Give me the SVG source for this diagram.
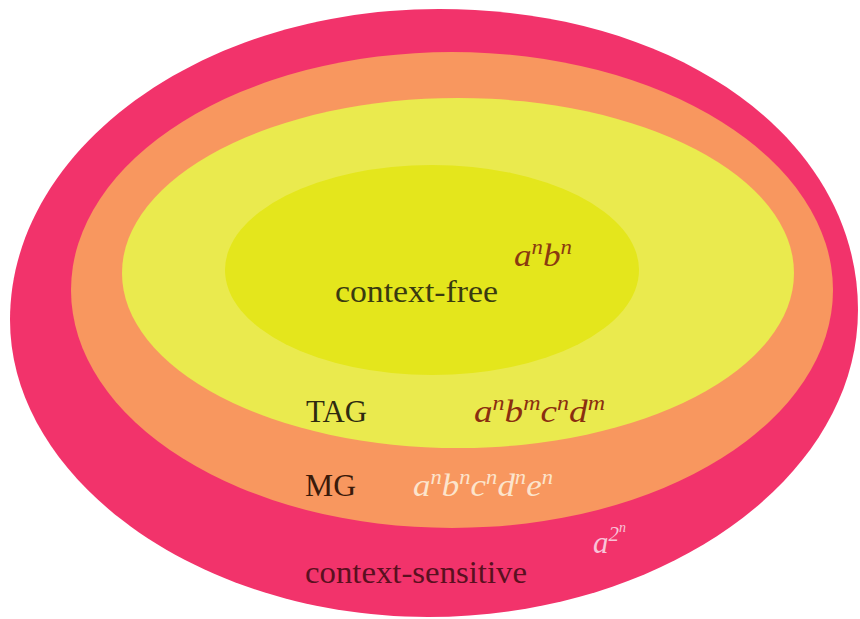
<svg xmlns="http://www.w3.org/2000/svg" width="860" height="619" viewBox="0 0 860 619">
<style>
.lbl{font-family:"Liberation Serif","Times New Roman",serif;font-size:31px}
.math{font-family:"Liberation Serif","Times New Roman",serif;font-style:italic;font-size:31px}
.sup{font-size:20px}
</style>
<rect width="860" height="619" fill="#ffffff"/>
<g id="context-sensitive">
<path d="M439,9 C680,9 858,140 858,310 C858,480 660,617 428,617 C200,617 10,480 10,320 C10,150 200,9 439,9 Z" fill="#F2336B"/>
</g>
<g id="MG">
<ellipse cx="452" cy="290" rx="381" ry="238" fill="#F8975F"/>
</g>
<g id="TAG">
<ellipse cx="458" cy="273" rx="336" ry="175" fill="#EAEA4E"/>
</g>
<g id="context-free">
<ellipse cx="432" cy="270" rx="207" ry="105" fill="#E4E61C"/>
</g>
<g id="labels">
<text class="lbl" x="335" y="302" fill="#3A3A10" textLength="163" lengthAdjust="spacingAndGlyphs">context-free</text>
<text class="math" x="514" y="266" fill="#8A3A10" textLength="58" lengthAdjust="spacingAndGlyphs">a<tspan class="sup" dy="-12">n</tspan><tspan dy="12">b</tspan><tspan class="sup" dy="-12">n</tspan></text>
<text class="lbl" x="306" y="422" fill="#2E2A10" textLength="61" lengthAdjust="spacingAndGlyphs">TAG</text>
<text class="math" x="474" y="422" fill="#8A2E10" textLength="131" lengthAdjust="spacingAndGlyphs">a<tspan class="sup" dy="-12">n</tspan><tspan dy="12">b</tspan><tspan class="sup" dy="-12">m</tspan><tspan dy="12">c</tspan><tspan class="sup" dy="-12">n</tspan><tspan dy="12">d</tspan><tspan class="sup" dy="-12">m</tspan></text>
<text class="lbl" x="305" y="496" fill="#3A1A0A" textLength="51" lengthAdjust="spacingAndGlyphs">MG</text>
<text class="math" x="413" y="496" fill="#FCE4CC" textLength="140" lengthAdjust="spacingAndGlyphs">a<tspan class="sup" dy="-12">n</tspan><tspan dy="12">b</tspan><tspan class="sup" dy="-12">n</tspan><tspan dy="12">c</tspan><tspan class="sup" dy="-12">n</tspan><tspan dy="12">d</tspan><tspan class="sup" dy="-12">n</tspan><tspan dy="12">e</tspan><tspan class="sup" dy="-12">n</tspan></text>
<text class="math" x="593" y="553" fill="#F8C4D8">a<tspan font-size="21" dy="-12">2</tspan><tspan font-size="14" dy="-9">n</tspan></text>
<text class="lbl" x="305" y="583" fill="#5A1020" textLength="222" lengthAdjust="spacingAndGlyphs">context-sensitive</text>
</g>
</svg>
